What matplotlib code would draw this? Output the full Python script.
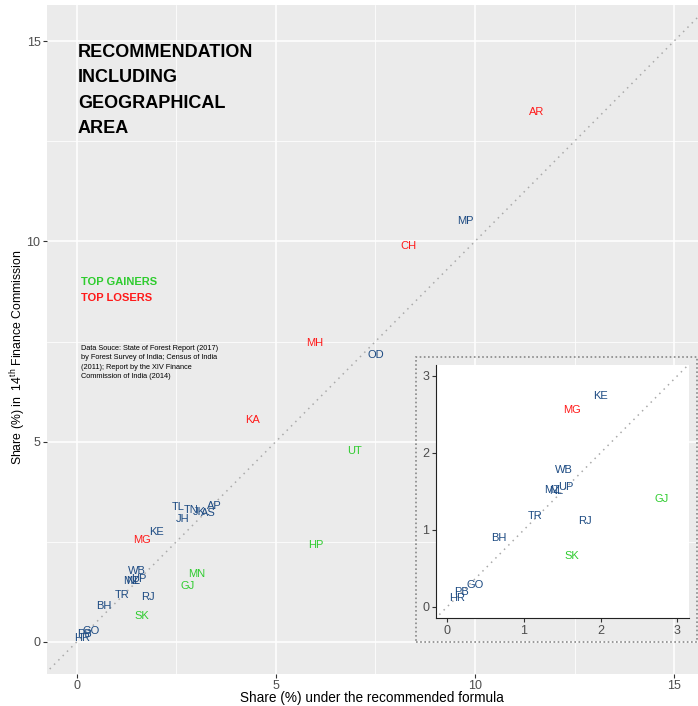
import numpy as np
import matplotlib
matplotlib.use("Agg")
import matplotlib.pyplot as plt
from matplotlib.patches import Rectangle

plt.rcParams['font.family'] = ['Liberation Sans', 'DejaVu Sans']
plt.rcParams['mathtext.default'] = 'regular'

# share (%) under recommended formula (x) vs share (%) in 14th FC (y)
states = ["AR", "MP", "CH", "MH", "OD", "KA", "UT", "HP", "AP", "AS", "JK", "TN", "TL",
          "JH", "KE", "MG", "WB", "UP", "MZ", "NL", "TR", "RJ", "BH", "SK", "MN", "GJ",
          "GO", "PB", "HR"]
share_new = [11.56, 9.75, 8.34, 5.98, 7.51, 4.42, 6.98, 6.00, 3.45, 3.30, 3.09, 2.88, 2.55,
             2.67, 2.00, 1.63, 1.52, 1.55, 1.37, 1.42, 1.15, 1.79, 0.68, 1.63, 3.02, 2.79,
             0.37, 0.19, 0.13]
share_14fc = [13.22, 10.52, 9.88, 7.46, 7.16, 5.54, 4.76, 2.42, 3.40, 3.21, 3.24, 3.29, 3.37,
              3.08, 2.74, 2.55, 1.78, 1.56, 1.52, 1.51, 1.18, 1.12, 0.90, 0.66, 1.70, 1.40,
              0.28, 0.19, 0.11]
gainers = ["UT", "HP", "MN", "GJ", "SK"]
losers = ["AR", "CH", "MH", "KA", "MG"]

c_blue = "#1c4a82"
c_green = "#2ecc2e"
c_red = "#ff1a1a"

def col(s):
    if s in gainers:
        return c_green
    if s in losers:
        return c_red
    return c_blue

fig = plt.figure(figsize=(6.98, 7.06), dpi=100)
ax = fig.add_axes([0.067, 0.0453, 0.933, 0.9476])
ax.set_facecolor("#EBEBEB")
ax.set_xlim(-0.75, 15.6)
ax.set_ylim(-0.8, 15.9)
ax.set_xticks([0, 5, 10, 15])
ax.set_yticks([0, 5, 10, 15])
ax.set_xticks([2.5, 7.5, 12.5], minor=True)
ax.set_yticks([2.5, 7.5, 12.5], minor=True)
ax.grid(True, which="major", color="white", linewidth=1.1)
ax.grid(True, which="minor", color="white", linewidth=0.55)
ax.set_axisbelow(True)
for sp in ax.spines.values():
    sp.set_visible(False)
ax.tick_params(which="major", length=3, pad=1.5, color="#333333", labelcolor="#4D4D4D",
               labelsize=9)
ax.tick_params(which="minor", length=0)

ax.plot([-1, 16], [-1, 16], linestyle=(0, (1, 3)), color="#AAAAAA", linewidth=1.1)
for s, x, y in zip(states, share_new, share_14fc):
    ax.text(x, y, s, color=col(s), fontsize=8, ha="center", va="center")

ax.text(0.03, 14.93, "RECOMMENDATION\nINCLUDING\nGEOGRAPHICAL\nAREA", fontsize=13,
        fontweight="bold", ha="left", va="top", linespacing=1.65)
ax.text(0.12, 8.99, "TOP GAINERS", color=c_green, fontsize=8, fontweight="bold",
        ha="left", va="center")
ax.text(0.12, 8.59, "TOP LOSERS", color=c_red, fontsize=8, fontweight="bold",
        ha="left", va="center")
ax.text(0.12, 7.42, "Data Souce: State of Forest Report (2017)\nby Forest Survey of India; Census of India\n"
        "(2011); Report by the XIV Finance\nCommission of India (2014)",
        fontsize=5.3, ha="left", va="top", linespacing=1.5)

ax.set_xlabel("Share (%) under the recommended formula", fontsize=9.8)
ax.xaxis.set_label_coords(0.5, -0.026)
ax.set_ylabel("Share (%) in  14$^{th}$ Finance Commission", fontsize=8.8)
ax.yaxis.set_label_coords(-0.029, 0.474)

# inset zoom on small states
fig.patches.append(Rectangle((0.596, 0.0907), 0.4026, 0.4033, transform=fig.transFigure,
                             fill=False, edgecolor="#888888", linestyle=(0, (1, 1.5)),
                             linewidth=1.2))
axi = fig.add_axes([0.624, 0.124, 0.363, 0.359])
axi.set_facecolor("white")
axi.set_xlim(-0.15, 3.15)
axi.set_ylim(-0.15, 3.14)
axi.set_xticks([0, 1, 2, 3])
axi.set_yticks([0, 1, 2, 3])
axi.spines["top"].set_visible(False)
axi.spines["right"].set_visible(False)
axi.spines["left"].set_color("#222222")
axi.spines["bottom"].set_color("#222222")
axi.tick_params(length=3, pad=1.5, color="#333333", labelcolor="#4D4D4D", labelsize=9)
axi.plot([-1, 4], [-1, 4], linestyle=(0, (1, 3)), color="#AAAAAA", linewidth=1.1)
for s, x, y in zip(states, share_new, share_14fc):
    if x < 3 and y < 3:
        axi.text(x, y, s, color=col(s), fontsize=8, ha="center", va="center")

fig.savefig("out.png", dpi=100)
